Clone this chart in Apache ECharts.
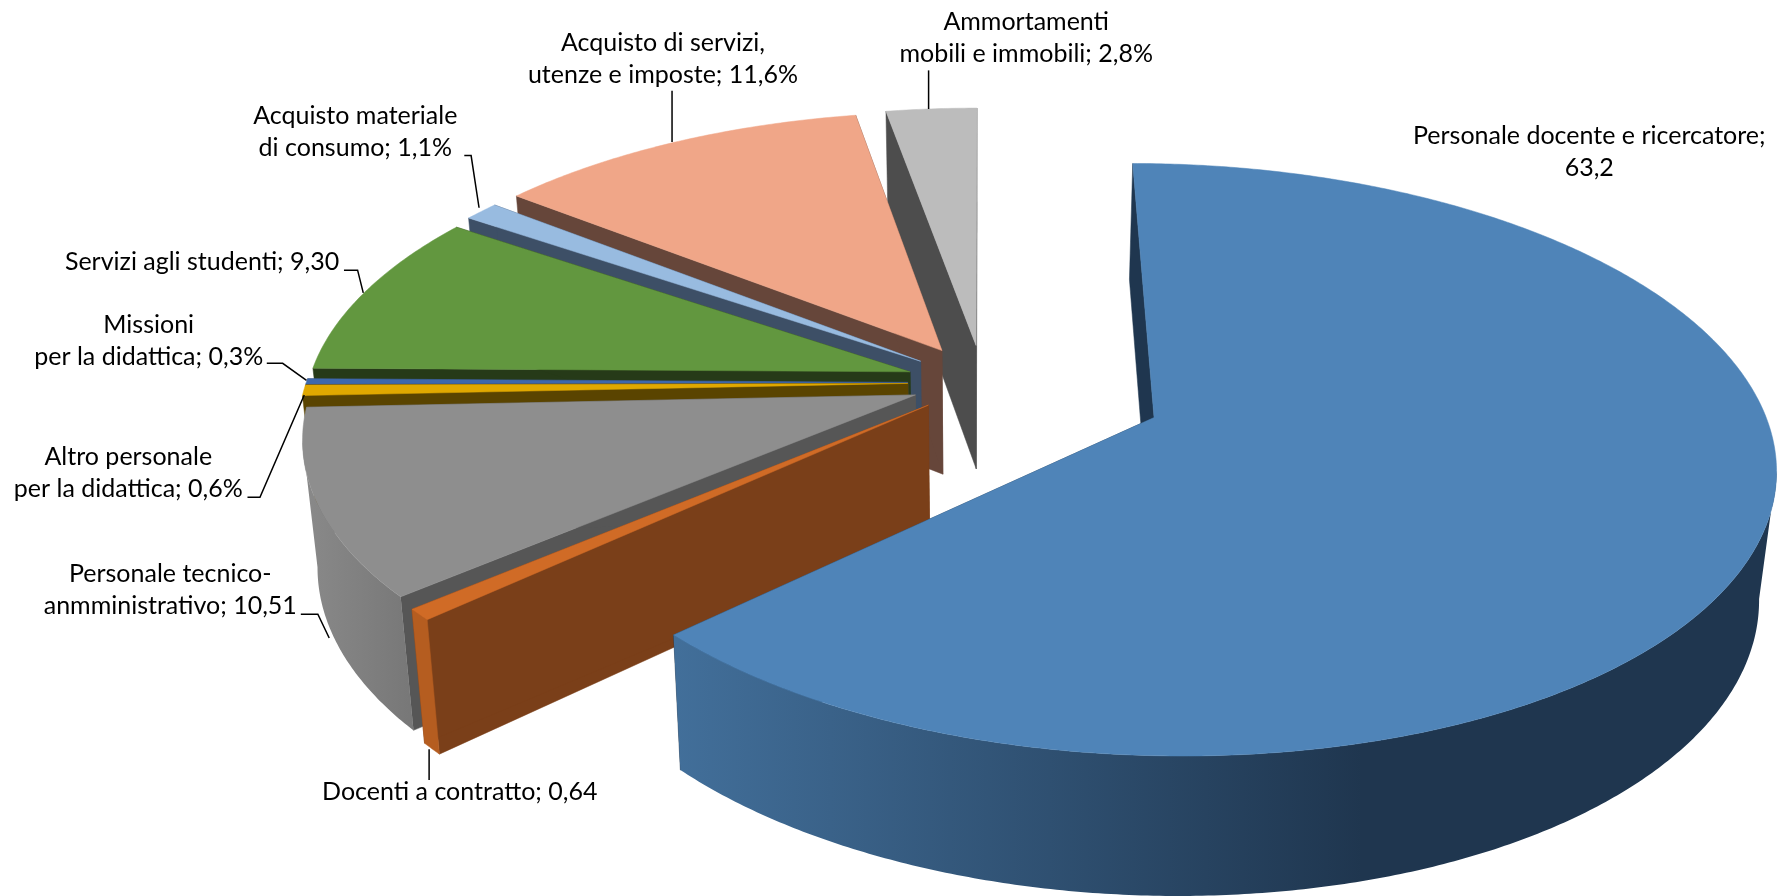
<!DOCTYPE html>
<html><head><meta charset="utf-8">
<style>html,body{margin:0;padding:0;background:#fff}#c{width:1780px;height:896px}</style>
<script src="https://cdn.jsdelivr.net/npm/echarts@6/dist/echarts.min.js"></script>
</head><body><div id="c"></div>
<script>
const categories = ["Personale docente e ricercatore","Docenti a contratto","Personale tecnico-anmministrativo","Altro personale per la didattica","Missioni per la didattica","Servizi agli studenti","Acquisto materiale di consumo","Acquisto di servizi, utenze e imposte","Ammortamenti mobili e immobili"];
const values = [63.2,0.64,10.51,0.6,0.3,9.3,1.1,11.6,2.8];
const labels = ["Personale docente e ricercatore;\n63,2","Docenti a contratto; 0,64","Personale tecnico-\nanmministrativo; 10,51","Altro personale\nper la didattica; 0,6%","Missioni\nper la didattica; 0,3%","Servizi agli studenti; 9,30","Acquisto materiale\ndi consumo; 1,1%","Acquisto di servizi,\nutenze e imposte; 11,6%","Ammortamenti\nmobili e immobili; 2,8%"];
const explode = [0.305,0.12,0.12,0.125,0.125,0.128,0.13,0.135,0.135];
const topColors = ["#4f84b8","#d06b26","#8e8e8e","#e0a800","#3d68ad","#62973f","#98bbe0","#f0a688","#bcbcbc"];
const wallColors = ["#1f364f","#7a3f19","#565656","#5a4400","#3a4150","#263a18","#3d4f66","#66463a","#4d4d4d"];
const s = 1780/1568;
const labelPos = [[1400,133.5],[405,698],[150,520],[113,417],[131,300],[178,231],[313,116],[584,52],[904,33]];
const leaders = [null,[[378,660],[378,687]],[[265,541],[280,541],[290,562]],[[218,438],[229,438],[268,348]],[[235,320],[249,320],[270,335]],[[303,238],[315,238],[320,258]],[[409,137],[415,137],[422,183]],[[592,80],[592,125]],[[818,62],[818,96]]];
const Ox=866*s,Oy=337*s,R=530*s,T=0.466,P=0.14,H=110*s,BOT=0.978,START=0;
const total = values.reduce((a,b)=>a+b,0);
function proj(X,Y,bottom){
  const k=1/(1-P*Y); let x=Ox+R*X*k, y=Oy+R*T*Y*k;
  if(bottom){x=Ox+(x-Ox)*BOT; y=Oy+(y-Oy)*BOT+H*k;}
  return [x,y];
}
function outerFill(i){
  if(i===0) return new echarts.graphic.LinearGradient(594*s,0,1200*s,0,[{offset:0,color:"#426f9a"},{offset:1,color:"#1f364f"}],true);
  if(i===2) return new echarts.graphic.LinearGradient(265*s,0,365*s,0,[{offset:0,color:"#8a8a8a"},{offset:1,color:"#777777"}],true);
  if(i===1) return "#b55d20";
  return wallColors[i];
}
function renderItem(params,api){
  const i=params.dataIndex, v=api.value(0);
  let a0=START; for(let j=0;j<i;j++) a0+=values[j]/total*360;
  const a1=a0+v/total*360, mid=(a0+a1)/2*Math.PI/180;
  const ax=explode[i]*Math.sin(mid), ay=-explode[i]*Math.cos(mid);
  const pt=(deg,b)=>{const r=deg*Math.PI/180;return proj(ax+Math.sin(r),ay-Math.cos(r),b);};
  const arc=[]; const n=Math.max(2,Math.ceil(a1-a0)*2);
  for(let t=0;t<=n;t++) arc.push(a0+(a1-a0)*t/n);
  const z=(values.length-i)*10;
  const kids=[];
  const poly=(points,fill,dz)=>kids.push({type:'polygon',z2:z+dz,shape:{points},style:{fill,stroke:typeof fill==='string'?fill:null,lineWidth:0.5}});
  const apexT=proj(ax,ay,false), apexB=proj(ax,ay,true);
  poly([apexT,pt(a0,false),pt(a0,true),apexB],wallColors[i],0);
  poly([apexT,pt(a1,false),pt(a1,true),apexB],wallColors[i],1);
  const vis=[];
  for(let t=0;t<n;t++){ if(pt(arc[t+1],false)[0]<pt(arc[t],false)[0]){ if(!vis.length)vis.push(arc[t]); vis.push(arc[t+1]); } }
  if(vis.length>1){
    poly(vis.map(d=>pt(d,false)).concat(vis.slice().reverse().map(d=>pt(d,true))),outerFill(i),2);
  }
  poly([apexT].concat(arc.map(d=>pt(d,false))),topColors[i],3);
  const lp=labelPos[i];
  kids.push({type:'text',z2:500,style:{text:labels[i],x:lp[0]*s,y:lp[1]*s,align:'center',verticalAlign:'middle',fill:'#000',font:'25px Lato',lineHeight:32}});
  if(leaders[i]) kids.push({type:'polyline',z2:499,shape:{points:leaders[i].map(p=>[p[0]*s,p[1]*s])},style:{fill:null,stroke:'#000',lineWidth:1.5}});
  return {type:'group',children:kids};
}
const chart=echarts.init(document.getElementById('c'),null,{renderer:'canvas'});
chart.setOption({animation:false,backgroundColor:'#fff',series:[{type:'custom',coordinateSystem:'none',renderItem,data:categories.map((c,i)=>({name:c,value:[values[i]]}))}]});
</script></body></html>
